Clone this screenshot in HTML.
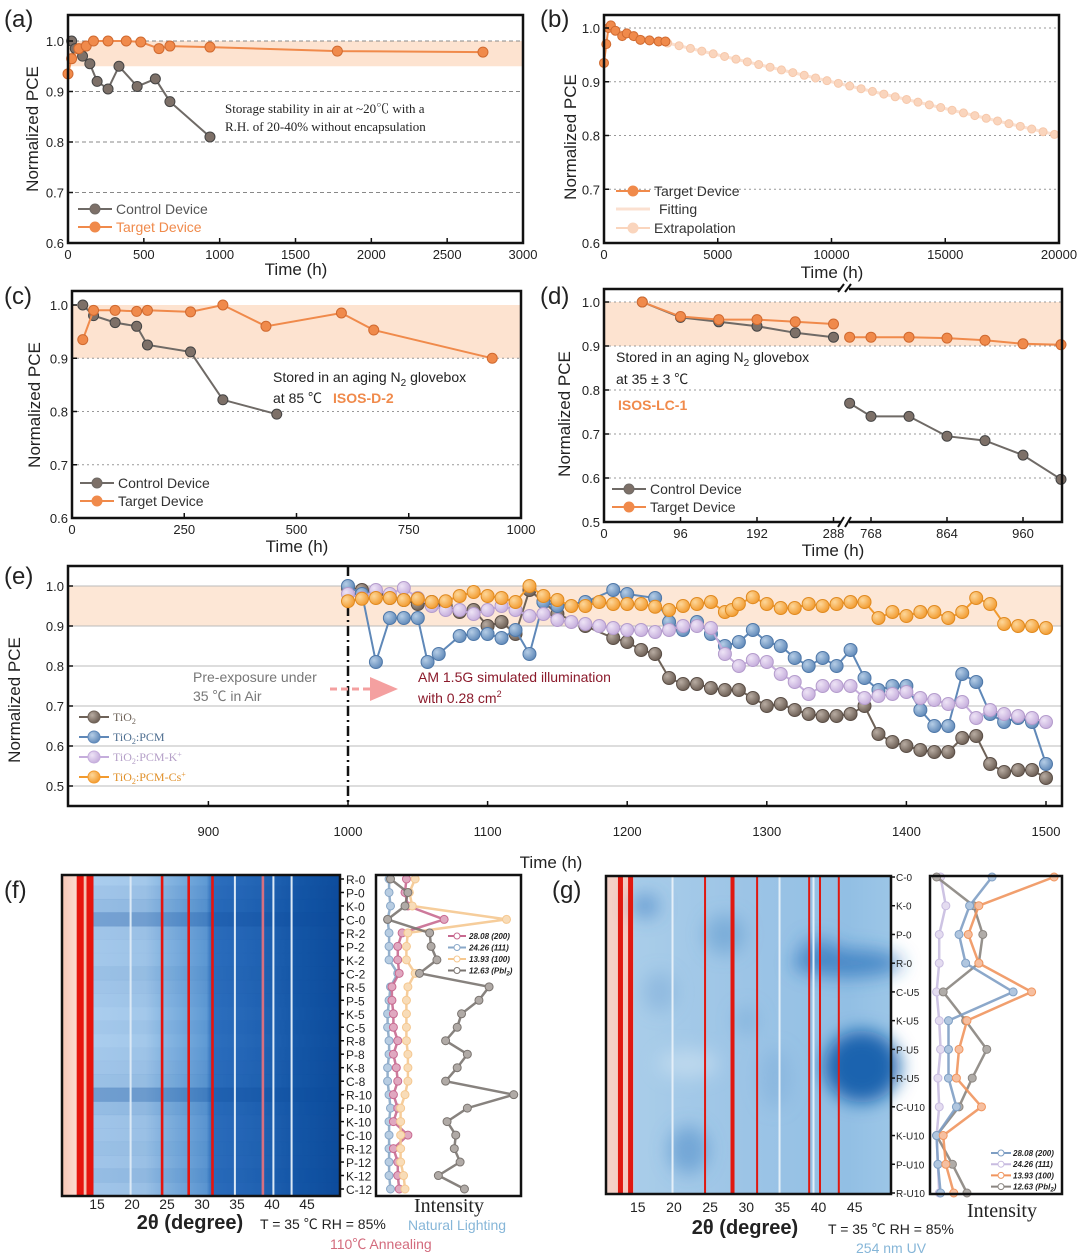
<!DOCTYPE html>
<html><head><meta charset="utf-8"><style>
body{margin:0;background:#fff}
svg{display:block;font-family:"Liberation Sans","Noto Sans CJK SC",sans-serif}
.serif{font-family:"Liberation Serif","Noto Serif CJK SC",serif}
</style></head><body>
<svg id="s" width="1080" height="1254" viewBox="0 0 1080 1254" xmlns="http://www.w3.org/2000/svg">
<defs>
<radialGradient id="gGray" cx="35%" cy="35%" r="70%"><stop offset="0" stop-color="#b8aca2"/><stop offset="1" stop-color="#6a5c52"/></radialGradient>
<radialGradient id="gBlue" cx="35%" cy="35%" r="70%"><stop offset="0" stop-color="#b5cde6"/><stop offset="1" stop-color="#5f88b8"/></radialGradient>
<radialGradient id="gPurp" cx="35%" cy="35%" r="70%"><stop offset="0" stop-color="#eee4f6"/><stop offset="1" stop-color="#c5addc"/></radialGradient>
<radialGradient id="gOrg" cx="35%" cy="35%" r="70%"><stop offset="0" stop-color="#fdd79a"/><stop offset="1" stop-color="#f29a2e"/></radialGradient>
<linearGradient id="hmF" x1="0" x2="1" y1="0" y2="0">
<stop offset="0" stop-color="#f7c6b6"/><stop offset="0.05" stop-color="#fbd9cf"/><stop offset="0.1" stop-color="#f3b2a2"/>
<stop offset="0.11" stop-color="#aacdee"/><stop offset="0.3" stop-color="#a3c8ea"/><stop offset="0.36" stop-color="#8bb9e3"/>
<stop offset="0.52" stop-color="#5f9ad4"/><stop offset="0.54" stop-color="#2d6fbe"/><stop offset="0.75" stop-color="#1f61b1"/>
<stop offset="0.86" stop-color="#1456a6"/><stop offset="1" stop-color="#0d4c9c"/></linearGradient>
<linearGradient id="hmG" x1="0" x2="1" y1="0" y2="0">
<stop offset="0" stop-color="#f3d2c8"/><stop offset="0.09" stop-color="#f6c8bf"/><stop offset="0.1" stop-color="#a9cde9"/>
<stop offset="0.5" stop-color="#9cc4e6"/><stop offset="0.85" stop-color="#92bfe4"/><stop offset="1" stop-color="#9cc6e7"/></linearGradient>
<filter id="blur"><feGaussianBlur stdDeviation="9"/></filter>
</defs>
</svg>
<script>
// ---------- DATA ----------
const aCtrlH=[24,48,96,144,192,264,336,456,576,672,936];
const aCtrlV=[1.0,0.985,0.97,0.955,0.92,0.905,0.95,0.91,0.925,0.88,0.81];
const aTgtH=[0,24,72,120,168,264,384,480,600,672,936,1776,2736];
const aTgtV=[0.935,0.965,0.985,0.99,1.0,1.0,1.0,0.998,0.985,0.99,0.988,0.98,0.978];
const bTgtH=[0,100,200,300,500,800,1000,1300,1600,2000,2400,2700];
const bTgtV=[0.935,0.97,1.0,1.005,0.995,0.985,0.99,0.985,0.978,0.977,0.975,0.975];
const bFitStart=[0,1.0];
const bFitEnd=[20000,0.8];
const bExtraH=[2800,3300,3800,4300,4800,5300,5800,6300,6800,7300,7800,8300,8800,9300,9800,10300,10800,11300,11800,12300,12800,13300,13800,14300,14800,15300,15800,16300,16800,17300,17800,18300,18800,19300,19800];
const cCtrlH=[24,48,96,144,168,264,336,456];
const cCtrlV=[1.0,0.98,0.967,0.96,0.925,0.912,0.822,0.795];
const cTgtH=[24,48,96,144,168,264,336,432,600,672,936];
const cTgtV=[0.935,0.99,0.99,0.988,0.99,0.987,1.0,0.96,0.985,0.953,0.9];
const dTgtLH=[48,96,144,192,240,288];
const dTgtLV=[1.0,0.967,0.96,0.96,0.955,0.95];
const dTgtRH=[741,768,816,864,912,960,1008];
const dTgtRV=[0.92,0.92,0.92,0.918,0.913,0.905,0.903];
const dCtrlLH=[48,96,144,192,240,288];
const dCtrlLV=[1.0,0.965,0.955,0.945,0.93,0.92];
const dCtrlRH=[741,768,816,864,912,960,1008];
const dCtrlRV=[0.77,0.74,0.74,0.695,0.685,0.652,0.597];
const eGrayH=[1000,1010,1020,1030,1040,1050,1060,1070,1080,1090,1100,1110,1120,1130,1140,1150,1170,1190,1200,1210,1220,1230,1240,1250,1260,1270,1280,1290,1300,1310,1320,1330,1340,1350,1360,1370,1380,1390,1400,1410,1420,1430,1440,1450,1460,1470,1480,1490,1500];
const eGrayV=[0.995,0.99,0.985,0.97,0.965,0.955,0.96,0.95,0.935,0.94,0.9,0.91,0.88,0.99,0.96,0.93,0.9,0.87,0.86,0.84,0.83,0.77,0.755,0.755,0.745,0.74,0.74,0.72,0.7,0.705,0.69,0.68,0.675,0.675,0.68,0.7,0.63,0.61,0.6,0.59,0.585,0.585,0.62,0.625,0.555,0.535,0.54,0.54,0.52];
const eBlueH=[1000,1010,1020,1030,1040,1050,1057,1065,1080,1090,1100,1110,1120,1130,1140,1150,1170,1190,1200,1220,1230,1240,1250,1260,1270,1280,1290,1300,1310,1320,1330,1340,1350,1360,1370,1380,1390,1400,1410,1420,1430,1440,1450,1460,1470,1480,1490,1500];
const eBlueV=[1.0,0.98,0.81,0.92,0.92,0.92,0.81,0.83,0.875,0.88,0.88,0.87,0.89,0.83,0.96,0.95,0.96,0.99,0.98,0.97,0.91,0.89,0.91,0.88,0.85,0.86,0.89,0.86,0.85,0.82,0.8,0.82,0.8,0.84,0.77,0.74,0.75,0.75,0.69,0.65,0.65,0.78,0.76,0.68,0.66,0.67,0.66,0.555];
const ePurpH=[1000,1010,1020,1030,1040,1050,1060,1070,1080,1090,1100,1110,1120,1130,1140,1150,1160,1170,1180,1190,1200,1210,1220,1230,1240,1250,1260,1270,1280,1290,1300,1310,1320,1330,1340,1350,1360,1370,1380,1390,1400,1410,1420,1430,1440,1450,1460,1470,1480,1490,1500];
const ePurpV=[0.98,0.97,0.99,0.98,0.995,0.97,0.95,0.94,0.94,0.93,0.94,0.95,0.94,0.925,0.93,0.915,0.91,0.905,0.9,0.895,0.89,0.89,0.885,0.89,0.9,0.9,0.895,0.83,0.8,0.815,0.81,0.78,0.76,0.73,0.75,0.75,0.75,0.72,0.725,0.73,0.735,0.72,0.715,0.705,0.71,0.67,0.69,0.68,0.675,0.67,0.66];
const eOrgH=[1000,1010,1020,1030,1040,1050,1060,1070,1080,1090,1100,1110,1120,1130,1140,1150,1160,1170,1180,1190,1200,1210,1220,1230,1240,1250,1260,1270,1275,1280,1290,1300,1310,1320,1330,1340,1350,1360,1370,1380,1390,1400,1410,1420,1430,1440,1450,1460,1470,1480,1490,1500];
const eOrgV=[0.962,0.968,0.97,0.97,0.965,0.968,0.96,0.962,0.975,0.985,0.975,0.97,0.96,1.0,0.975,0.965,0.95,0.95,0.96,0.955,0.955,0.955,0.948,0.94,0.95,0.955,0.96,0.935,0.94,0.955,0.972,0.955,0.945,0.945,0.955,0.95,0.955,0.96,0.96,0.92,0.935,0.925,0.935,0.935,0.92,0.935,0.97,0.955,0.905,0.9,0.9,0.895];
const fRows=["R-0","P-0","K-0","C-0","R-2","P-2","K-2","C-2","R-5","P-5","K-5","C-5","R-8","P-8","K-8","C-8","R-10","P-10","K-10","C-10","R-12","P-12","K-12","C-12"];
const fXTicks=[15,20,25,30,35,40,45];
const fRed=[12.6,14.0,24.3,28.1,31.5,38.7];
const fWhite=[19.8,34.7,40.2,42.8];
const fRowShade=[0,0.1,0.2,0.55,0.1,0.05,0.05,0.15,0.1,0.05,0,0.05,0,0.05,0.1,0.15,0.6,0.2,0.1,0.1,0.15,0.1,0.2,0.1];
const fPbI=[0.1,0.22,0.2,0.08,0.37,0.38,0.42,0.3,0.78,0.71,0.59,0.56,0.48,0.63,0.56,0.48,0.95,0.63,0.49,0.55,0.54,0.58,0.43,0.61];
const f200=[0.21,0.2,0.22,0.47,0.18,0.15,0.15,0.16,0.11,0.11,0.12,0.12,0.15,0.12,0.14,0.15,0.12,0.15,0.12,0.22,0.12,0.15,0.15,0.16];
const f100=[0.27,0.23,0.25,0.9,0.22,0.21,0.21,0.27,0.22,0.21,0.21,0.21,0.21,0.22,0.22,0.22,0.2,0.17,0.17,0.17,0.17,0.17,0.19,0.2];
const f111=[0.09,0.09,0.1,0.08,0.09,0.09,0.09,0.15,0.1,0.09,0.08,0.08,0.09,0.09,0.08,0.08,0.09,0.1,0.09,0.09,0.09,0.09,0.09,0.1];
const gRows=["C-0","K-0","P-0","R-0","C-U5","K-U5","P-U5","R-U5","C-U10","K-U10","P-U10","R-U10"];
const gXTicks=[15,20,25,30,35,40,45];
const gRed=[12.6,14.0,24.3,28.1,31.5,38.7,40.2,42.8];
const gWhite=[19.8,34.6,39.3];
const g200=[0.47,0.3,0.22,0.27,0.63,0.14,0.14,0.14,0.2,0.05,0.06,0.08];
const g111=[0.08,0.12,0.07,0.07,0.05,0.07,0.08,0.06,0.07,0.05,0.06,0.07];
const g100=[0.94,0.37,0.29,0.37,0.77,0.28,0.22,0.2,0.39,0.1,0.12,0.18];
const gPbI=[0.05,0.33,0.4,0.37,0.1,0.27,0.43,0.32,0.22,0.05,0.17,0.28];

// ---------- HELPERS ----------
const S=document.getElementById('s');
const NS='http://www.w3.org/2000/svg';
function mk(tag,at,name,par){
  const el=document.createElementNS(NS,tag);
  for(const k in at) el.setAttribute(k,at[k]);
  
  
  (par||S).appendChild(el);return el;}
function tx(x,y,s,name,o){o=o||{};const el=mk('text',Object.assign({x:x,y:y,'font-size':o.fs||14,fill:o.fill||'#222','text-anchor':o.anchor||'start'},o.extra||{}),name);el.innerHTML=s;if(o.cls)el.setAttribute('class',o.cls);return el;}
function line(x1,y1,x2,y2,st,w,name,dash){return mk('line',{x1:x1,y1:y1,x2:x2,y2:y2,stroke:st,'stroke-width':w,'stroke-dasharray':dash||'none'},name);}
function frame(x0,y0,x1,y1,name){mk('rect',{x:x0,y:y0,width:x1-x0,height:y1-y0,fill:'none',stroke:'#111','stroke-width':2.5},name);}
function series(H,V,sx,sy,col,mfill,mst,r,name){
  const p=H.map((h,i)=>sx(h).toFixed(1)+','+sy(V[i]).toFixed(1)).join(' ');
  mk('polyline',{points:p,fill:'none',stroke:col,'stroke-width':2},name+'-line');
  H.forEach((h,i)=>{mk('circle',{cx:sx(h),cy:sy(V[i]),r:r,fill:mfill,stroke:mst,'stroke-width':1},name+'-point');});}
function yTicks(vals,sy,x,name,fmt){vals.forEach(v=>{line(x,sy(v),x+5,sy(v),'#111',1.5,name+'-tick');tx(x-4,sy(v)+5,fmt(v),name+'-label',{anchor:'end',fs:13});});}
function xTicks(vals,sx,y,name,fmt,off){vals.forEach(v=>{line(sx(v),y,sx(v),y-5,'#111',1.5,name+'-tick');tx(sx(v),y+(off||16),fmt(v),name+'-label',{anchor:'middle',fs:13});});}
const f1=v=>v.toFixed(1);
const GRAY='#6f6a66',GM='#7d7068',ORG='#f08a4b';
function legend(x,y,col,mf,label,tcol,name){line(x,y,x+34,y,col,2,name+'-line');mk('circle',{cx:x+17,cy:y,r:5,fill:mf,stroke:col,'stroke-width':1},name+'-marker');tx(x+38,y+5,label,name+'-label',{fs:14,fill:tcol});}

// ---------- PANEL A ----------
{const sx=v=>68+v/3000*455, sy=v=>243-(v-0.6)/0.4*202;
mk('rect',{x:68,y:sy(1.0),width:455,height:sy(0.95)-sy(1.0),fill:'#fde3d0'},'a-band');
[0.7,0.8,0.9,1.0].forEach(v=>line(68,sy(v),523,sy(v),'#888',1,'a-gridline','4,3'));
series(aCtrlH,aCtrlV,sx,sy,GRAY,GM,'#444',5,'a-control');
series(aTgtH,aTgtV,sx,sy,ORG,ORG,'#d06a30',5,'a-target');
frame(68,15,523,243,'a-frame');
yTicks([0.6,0.7,0.8,0.9,1.0],sy,68,'a-ytick',f1);
xTicks([0,500,1000,1500,2000,2500,3000],sx,243,'a-xtick',v=>v);
tx(225,113,'Storage stability in air at ~20℃ with a','a-note',{fs:13,cls:'serif'});
tx(225,131,'R.H. of 20-40% without encapsulation','a-note',{fs:13,cls:'serif'});
legend(78,209,GRAY,GM,'Control Device','#555','a-legend-control');
legend(78,227,ORG,ORG,'Target Device',ORG,'a-legend-target');
tx(296,275,'Time (h)','a-x-title',{fs:17,anchor:'middle'});
tx(38,129,'Normalized PCE','a-y-title',{fs:17,anchor:'middle',extra:{transform:'rotate(-90 38 129)'}});
tx(4,27,'(a)','a-panel-label',{fs:24});}

// ---------- PANEL B ----------
{const sx=v=>604+v/20000*455, sy=v=>243-(v-0.6)/0.4*215;
[0.7,0.8,0.9,1.0].forEach(v=>line(604,sy(v),1059,sy(v),'#999',1,'b-gridline','2,3'));
line(sx(bFitStart[0]),sy(bFitStart[1]),sx(bFitEnd[0]),sy(bFitEnd[1]),'#fbe0d0',3,'b-fitting');
const slope=(bFitEnd[1]-bFitStart[1])/(bFitEnd[0]-bFitStart[0]);
bExtraH.forEach(h=>mk('circle',{cx:sx(h),cy:sy(bFitStart[1]+slope*h),r:4,fill:'#fad5bd',stroke:'#f6c8ab','stroke-width':1},'b-extrapolation-point'));
series(bTgtH,bTgtV,sx,sy,ORG,ORG,'#d06a30',4.5,'b-target');
frame(604,15,1059,243,'b-frame');
yTicks([0.6,0.7,0.8,0.9,1.0],sy,604,'b-ytick',f1);
xTicks([0,5000,10000,15000,20000],sx,243,'b-xtick',v=>v);
legend(616,191,ORG,ORG,'Target Device','#333','b-legend-target');
line(616,209,650,209,'#fbe0d0',3,'b-legend-fitting-line');tx(659,214,'Fitting','b-legend-fitting-label',{fs:14,fill:'#333'});
legend(616,228,'#fad5bd','#fad5bd','Extrapolation','#333','b-legend-extrapolation');
tx(832,278,'Time (h)','b-x-title',{fs:17,anchor:'middle'});
tx(576,137,'Normalized PCE','b-y-title',{fs:17,anchor:'middle',extra:{transform:'rotate(-90 576 137)'}});
tx(540,27,'(b)','b-panel-label',{fs:24});}

// ---------- PANEL C ----------
{const sx=v=>72+v/1000*449, sy=v=>518-(v-0.6)/0.4*213;
mk('rect',{x:72,y:sy(1.0),width:449,height:sy(0.9)-sy(1.0),fill:'#fde3d0'},'c-band');
[0.7,0.8,0.9].forEach(v=>line(72,sy(v),521,sy(v),'#999',1,'c-gridline','2,3'));
series(cCtrlH,cCtrlV,sx,sy,GRAY,GM,'#444',5,'c-control');
series(cTgtH,cTgtV,sx,sy,ORG,ORG,'#d06a30',5,'c-target');
frame(72,291,521,518,'c-frame');
yTicks([0.6,0.7,0.8,0.9,1.0],sy,72,'c-ytick',f1);
xTicks([0,250,500,750,1000],sx,518,'c-xtick',v=>v);
tx(273,382,'Stored in an aging N<tspan font-size="10" dy="4">2</tspan><tspan dy="-4"> glovebox</tspan>','c-note',{fs:14});
tx(273,403,'at 85 ℃','c-note',{fs:14});
tx(333,403,'ISOS-D-2','c-protocol',{fs:14,fill:ORG,extra:{'font-weight':'bold'}});
legend(80,483,GRAY,GM,'Control Device','#333','c-legend-control');
legend(80,501,ORG,ORG,'Target Device','#333','c-legend-target');
tx(297,552,'Time (h)','c-x-title',{fs:17,anchor:'middle'});
tx(40,405,'Normalized PCE','c-y-title',{fs:17,anchor:'middle',extra:{transform:'rotate(-90 40 405)'}});
tx(4,304,'(c)','c-panel-label',{fs:24});}

// ---------- PANEL D ----------
{const sy=v=>522-(v-0.5)/0.5*220, sL=v=>604+v*76.5/96, sR=v=>871+(v-768)*76/96;
mk('rect',{x:604,y:sy(1.0),width:458,height:sy(0.9)-sy(1.0),fill:'#fde3d0'},'d-band');
[0.6,0.7,0.8,0.9,1.0].forEach(v=>line(604,sy(v),1062,sy(v),'#999',1,'d-gridline','2,3'));
series(dCtrlLH,dCtrlLV,sL,sy,GRAY,GM,'#444',5,'d-control-early');
series(dCtrlRH,dCtrlRV,sR,sy,GRAY,GM,'#444',5,'d-control-late');
series(dTgtLH,dTgtLV,sL,sy,ORG,ORG,'#d06a30',5,'d-target-early');
series(dTgtRH,dTgtRV,sR,sy,ORG,ORG,'#d06a30',5,'d-target-late');
frame(604,289,1062,522,'d-frame');
mk('rect',{x:841,y:284,width:8,height:10,fill:'#fff'},'d-break-top');
mk('rect',{x:841,y:517,width:8,height:10,fill:'#fff'},'d-break-bottom');
[[838,292,844,284],[845,292,851,284],[838,527,844,517],[845,527,851,517]].forEach(a=>line(a[0],a[1],a[2],a[3],'#111',2,'d-break-mark'));
yTicks([0.5,0.6,0.7,0.8,0.9,1.0],sy,604,'d-ytick',f1);
xTicks([0,96,192,288],sL,522,'d-xtick',v=>v);
xTicks([768,864,960],sR,522,'d-xtick',v=>v);
tx(616,362,'Stored in an aging N<tspan font-size="10" dy="4">2</tspan><tspan dy="-4"> glovebox</tspan>','d-note',{fs:14});
tx(616,384,'at 35 ± 3 ℃','d-note',{fs:14});
tx(618,410,'ISOS-LC-1','d-protocol',{fs:14,fill:ORG,extra:{'font-weight':'bold'}});
legend(612,489,GRAY,GM,'Control Device','#333','d-legend-control');
legend(612,507,ORG,ORG,'Target Device','#333','d-legend-target');
tx(833,556,'Time (h)','d-x-title',{fs:17,anchor:'middle'});
tx(570,414,'Normalized PCE','d-y-title',{fs:17,anchor:'middle',extra:{transform:'rotate(-90 570 414)'}});
tx(540,304,'(d)','d-panel-label',{fs:24});}

// ---------- PANEL E ----------
{const sx=v=>348+(v-1000)*1.396, sy=v=>786-(v-0.5)*400;
mk('rect',{x:68,y:sy(1.0),width:994,height:sy(0.9)-sy(1.0),fill:'#fde7d6'},'e-band');
[0.5,0.6,0.7,0.8,0.9,1.0].forEach(v=>line(68,sy(v),1062,sy(v),'#bbb',1,'e-gridline'));
line(348,566,348,806,'#111',2.5,'e-exposure-divider','10,4,2,4');
series(eGrayH,eGrayV,sx,sy,'#6e6258','url(#gGray)','#5a4e46',6.5,'e-tio2');
series(eBlueH,eBlueV,sx,sy,'#5f88b8','url(#gBlue)','#4f78a8',6.5,'e-tio2-pcm');
series(ePurpH,ePurpV,sx,sy,'#c5addc','url(#gPurp)','#b49ccc',6.5,'e-tio2-pcm-k');
series(eOrgH,eOrgV,sx,sy,'#f29a2e','url(#gOrg)','#e08a20',6.5,'e-tio2-pcm-cs');
frame(68,566,1062,806,'e-frame');
yTicks([0.5,0.6,0.7,0.8,0.9,1.0],sy,68,'e-ytick',f1);
xTicks([900,1000,1100,1200,1300,1400,1500],sx,806,'e-xtick',v=>v,30);
tx(193,682,'Pre-exposure under','e-note-pre',{fs:14,fill:'#777'});
tx(193,701,'35 ℃ in Air','e-note-pre',{fs:14,fill:'#777'});
line(330,689,372,689,'#f4a0a0',3,'e-arrow-shaft','7,4');
mk('polygon',{points:'370,677 398,689 370,701',fill:'#f4a0a0'},'e-arrow-head');
tx(418,682,'AM 1.5G simulated illumination','e-note-light',{fs:14,fill:'#8b1a2b'});
tx(418,703,'with 0.28 cm<tspan font-size="9" dy="-6">2</tspan>','e-note-light',{fs:14,fill:'#8b1a2b'});
[['TiO<tspan font-size="8" dy="3">2</tspan>','#6e6258','url(#gGray)','#6e6258'],['TiO<tspan font-size="8" dy="3">2</tspan><tspan dy="-3">:PCM</tspan>','#5f88b8','url(#gBlue)','#4e6e90'],['TiO<tspan font-size="8" dy="3">2</tspan><tspan dy="-3">:PCM-K</tspan><tspan font-size="8" dy="-4">+</tspan>','#c5addc','url(#gPurp)','#b5a0c8'],['TiO<tspan font-size="8" dy="3">2</tspan><tspan dy="-3">:PCM-Cs</tspan><tspan font-size="8" dy="-4">+</tspan>','#f29a2e','url(#gOrg)','#e0902a']].forEach((l,i)=>{
 const y=717+i*20;line(79,y,109,y,l[1],2,'e-legend-line');mk('circle',{cx:94,cy:y,r:6,fill:l[2],stroke:l[1],'stroke-width':1},'e-legend-marker');
 tx(113,y+4,l[0],'e-legend-label',{fs:12,fill:l[3],cls:'serif'});});
tx(551,868,'Time (h)','e-x-title',{fs:17,anchor:'middle'});
tx(20,700,'Normalized PCE','e-y-title',{fs:17,anchor:'middle',extra:{transform:'rotate(-90 20 700)'}});
tx(4,584,'(e)','e-panel-label',{fs:24});}

// ---------- HEATMAP helper ----------
function intensity(bx0,by0,bx1,by1,rows,ry,seriesArr,name){
  mk('rect',{x:bx0,y:by0,width:bx1-bx0,height:by1-by0,fill:'#fff'},name+'-bg');
  const w=bx1-bx0;
  seriesArr.forEach(s=>{
    const p=s.v.map((v,i)=>(bx0+v*w).toFixed(1)+','+ry(i).toFixed(1)).join(' ');
    mk('polyline',{points:p,fill:'none',stroke:s.c,'stroke-width':2.5,opacity:0.9},name+'-'+s.n+'-line');
    s.v.forEach((v,i)=>mk('circle',{cx:bx0+v*w,cy:ry(i),r:4,fill:s.f,stroke:s.c,'stroke-width':1},name+'-'+s.n+'-point'));
  });
  frame(bx0,by0,bx1,by1,name+'-frame');}

// ---------- PANEL F ----------
{const x0=62,y0=875,x1=340,y1=1196, sx=t=>62+(t-10)*7.0, ry=i=>879+i*(1189-879)/23;
mk('rect',{x:x0,y:y0,width:x1-x0,height:y1-y0,fill:'url(#hmF)'},'f-heatmap-bg');
fRowShade.forEach((s,i)=>mk('rect',{x:sx(14.5),y:ry(i)-7,width:x1-sx(14.5),height:14,fill:'#0b4a9c',opacity:s*0.6},'f-row-shade'));
fWhite.forEach(t=>mk('rect',{x:sx(t)-1,y:y0,width:2,height:y1-y0,fill:'#dbe9f6'},'f-peak-white'));
fRed.forEach((t,i)=>mk('rect',{x:sx(t)-(i<2?3.5:1.3),y:y0,width:i<2?7:2.6,height:y1-y0,fill:i==5?'#d87080':'#e6140e'},'f-peak-red'));
frame(x0,y0,x1,y1,'f-heatmap-frame');
fRows.forEach((r,i)=>{line(340,ry(i),344,ry(i),'#111',1.5,'f-row-tick');tx(346,ry(i)+5,r,'f-row-label',{fs:12});});
fXTicks.forEach(t=>tx(sx(t),1209,t,'f-xtick-label',{fs:14,anchor:'middle'}));
intensity(376,875,521,1196,fRows,ry,[{v:f111,c:'#8aa8c8',f:'#b8cde2',n:'111'},{v:f200,c:'#c86a90',f:'#e0a8c0',n:'200'},{v:f100,c:'#f5c890',f:'#f8dcb8',n:'100'},{v:fPbI,c:'#7a7470',f:'#b0aaa6',n:'pbi2'}],'f-intensity');
[['28.08 (200)','#c86a90'],['24.26 (111)','#8aa8c8'],['13.93 (100)','#f5c890'],['12.63 (PbI<tspan font-size="6" dy="2">2</tspan><tspan dy="-2">)</tspan>','#7a7470']].forEach((l,i)=>{const y=936+i*11.5;line(448,y,466,y,l[1],2,'f-legend-line');mk('circle',{cx:457,cy:y,r:3,fill:'#fff',stroke:l[1]},'f-legend-marker');tx(469,y+3,l[0],'f-legend-label',{fs:8,extra:{'font-weight':'bold','font-style':'italic'}});});
tx(449,1212,'Intensity','f-intensity-title',{fs:20,anchor:'middle',cls:'serif'});
tx(190,1229,'2θ (degree)','f-x-title',{fs:20,anchor:'middle',extra:{'font-weight':'bold'}});
tx(260,1229,'T = 35 ℃ RH = 85%','f-condition',{fs:14});
tx(408,1230,'Natural Lighting','f-condition-light',{fs:14,fill:'#86b6d8'});
tx(330,1249,'110℃  Annealing','f-condition-anneal',{fs:14,fill:'#d36b7d'});
tx(4,898,'(f)','f-panel-label',{fs:24});}

// ---------- PANEL G ----------
{const x0=606,y0=876,x1=891,y1=1194, sx=t=>606+(t-10.6)*7.23, ry=i=>877+i*(1193-877)/11;
mk('rect',{x:x0,y:y0,width:x1-x0,height:y1-y0,fill:'url(#hmG)'},'g-heatmap-bg');
const gb=mk('g',{filter:'url(#blur)'},'g-heatmap-blobs');
[[sx(46),ry(6.6),38,36,'#0b5aa8',0.9],[sx(44),ry(3),55,14,'#2b72bb',0.7],[sx(40),ry(2.5),20,12,'#2f76bf',0.5],[sx(16),ry(1),14,12,'#3f80c4',0.6],[sx(22),ry(9.5),20,24,'#4a8bc8',0.55],[sx(27),ry(2),20,20,'#5a95cc',0.5],[sx(18),ry(4),16,20,'#6ea0d2',0.4],[sx(30),ry(5),12,14,'#6a9fd2',0.4],[sx(34),ry(7),16,30,'#78a8d6',0.4],[sx(22),ry(6.5),30,14,'#cfe2f2',0.6]].forEach(b=>mk('ellipse',{cx:b[0],cy:b[1],rx:b[2],ry:b[3],fill:b[4],opacity:b[5]},'g-heatmap-blob',gb));
gWhite.forEach(t=>mk('rect',{x:sx(t)-1,y:y0,width:2,height:y1-y0,fill:'#e4eff8'},'g-peak-white'));
gRed.forEach((t,i)=>mk('rect',{x:sx(t)-(i<2?2.5:i==3?2:1),y:y0,width:i<2?5:i==3?4:2,height:y1-y0,fill:'#e01810'},'g-peak-red'));
frame(x0,y0,x1,y1,'g-heatmap-frame');
gRows.forEach((r,i)=>{line(891,ry(i),895,ry(i),'#111',1.5,'g-row-tick');tx(896,ry(i)+4,r,'g-row-label',{fs:10});});
gXTicks.forEach(t=>tx(sx(t),1212,t,'g-xtick-label',{fs:14,anchor:'middle'}));
intensity(930,876,1062,1194,gRows,ry,[{v:g111,c:'#c8bce0',f:'#e4dcf0',n:'111'},{v:gPbI,c:'#8a8580',f:'#b0aca8',n:'pbi2'},{v:g200,c:'#7f9fc4',f:'#b0c6df',n:'200'},{v:g100,c:'#f0955e',f:'#f6bfa0',n:'100'}],'g-intensity');
mk('rect',{x:988,y:1148,width:72,height:44,fill:'#fff'},'g-legend-bg');
[['28.08 (200)','#7f9fc4'],['24.26 (111)','#c8bce0'],['13.93 (100)','#f0955e'],['12.63 (PbI<tspan font-size="6" dy="2">2</tspan><tspan dy="-2">)</tspan>','#8a8580']].forEach((l,i)=>{const y=1153+i*11.2;line(991,y,1011,y,l[1],2,'g-legend-line');mk('circle',{cx:1001,cy:y,r:3,fill:'#fff',stroke:l[1]},'g-legend-marker');tx(1013,y+3,l[0],'g-legend-label',{fs:8,extra:{'font-weight':'bold','font-style':'italic'}});});
tx(1002,1217,'Intensity','g-intensity-title',{fs:20,anchor:'middle',cls:'serif'});
tx(745,1234,'2θ (degree)','g-x-title',{fs:20,anchor:'middle',extra:{'font-weight':'bold'}});
tx(828,1234,'T = 35 ℃ RH = 85%','g-condition',{fs:14});
tx(856,1253,'254 nm UV','g-condition-light',{fs:14,fill:'#86b6d8'});
tx(552,898,'(g)','g-panel-label',{fs:24});}
</script>
</body></html>
